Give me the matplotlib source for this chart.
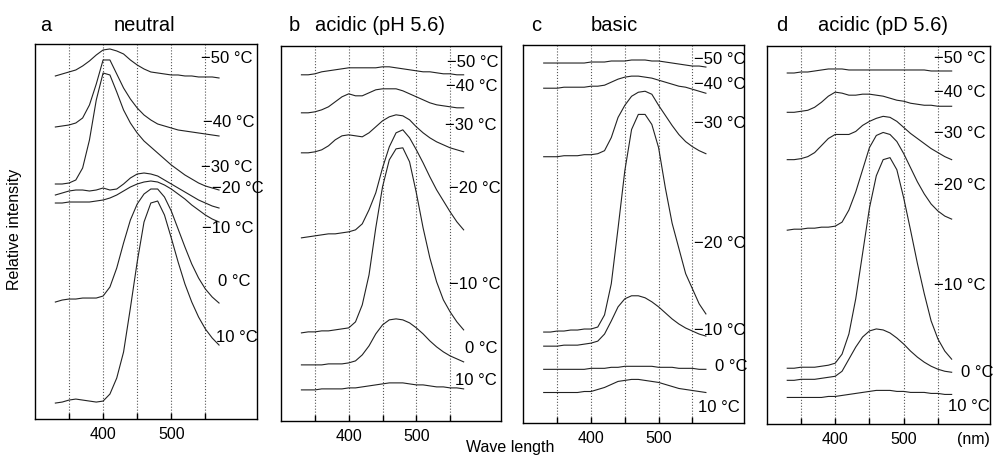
import matplotlib
matplotlib.use("Agg")
import matplotlib.pyplot as plt

plt.rcParams['font.family'] = ['Liberation Sans', 'DejaVu Sans']

# wavelength grid (nm)
wl = [330, 340, 350, 360, 370, 380, 390, 400, 410, 420, 430, 440, 450,
      460, 470, 480, 490, 500, 510, 520, 530, 540, 550, 560, 570]

temps = ['\u221250 \u00b0C', '\u221240 \u00b0C', '\u221230 \u00b0C', '\u221220 \u00b0C',
         '\u221210 \u00b0C', '0 \u00b0C', '10 \u00b0C']

# a  neutral (stacked, arbitrary units)
a_m50 = [343, 345, 347, 349, 353, 358, 364, 369, 370, 368, 365, 359, 354, 350, 347, 346, 345, 344, 344, 343, 343, 342, 342, 342, 341]
a_m40 = [292, 293, 294, 296, 301, 314, 335, 359, 359, 345, 331, 320, 311, 304, 299, 295, 293, 291, 289, 288, 287, 286, 285, 284, 283]
a_m30 = [235, 235, 236, 239, 251, 279, 319, 346, 344, 327, 309, 296, 286, 278, 272, 266, 260, 254, 249, 244, 240, 236, 233, 231, 229]
a_m20 = [224, 226, 228, 229, 229, 228, 229, 231, 229, 230, 235, 241, 245, 246, 245, 243, 239, 235, 231, 227, 223, 219, 216, 213, 211]
a_m10 = [216, 216, 217, 217, 217, 217, 218, 219, 221, 224, 228, 232, 235, 237, 238, 237, 234, 230, 225, 220, 214, 209, 204, 200, 197]
a_0 = [117, 119, 120, 120, 121, 121, 121, 123, 132, 151, 176, 199, 215, 225, 230, 230, 222, 208, 190, 172, 155, 141, 130, 122, 116]
a_10 = [16, 17, 19, 20, 19, 18, 17, 18, 25, 41, 67, 111, 157, 197, 216, 218, 204, 181, 157, 135, 117, 102, 90, 81, 74]

# b  acidic (pH 5.6)
b_m50 = [346, 346, 347, 349, 350, 351, 352, 353, 353, 353, 353, 353, 354, 354, 353, 352, 351, 350, 349, 349, 348, 347, 347, 346, 346]
b_m40 = [308, 308, 309, 311, 314, 319, 324, 327, 325, 325, 328, 331, 332, 332, 332, 330, 327, 324, 321, 318, 316, 315, 314, 313, 313]
b_m30 = [268, 268, 269, 271, 275, 281, 285, 286, 285, 284, 288, 294, 300, 304, 306, 305, 301, 294, 288, 283, 279, 276, 273, 271, 269]
b_m20 = [183, 184, 185, 186, 187, 187, 188, 189, 191, 197, 211, 228, 253, 274, 288, 291, 283, 271, 258, 244, 231, 220, 209, 199, 191]
b_m10 = [88, 89, 89, 90, 90, 91, 92, 93, 99, 116, 146, 193, 234, 261, 272, 273, 259, 228, 193, 163, 139, 121, 109, 99, 91]
b_0 = [56, 56, 56, 56, 57, 57, 57, 58, 60, 66, 75, 87, 96, 101, 102, 101, 98, 93, 87, 80, 74, 69, 65, 62, 59]
b_10 = [31, 31, 31, 32, 32, 32, 32, 33, 33, 34, 35, 36, 37, 38, 38, 38, 37, 36, 36, 35, 34, 34, 33, 33, 32]

# c  basic
c_m50 = [357, 357, 357, 357, 357, 357, 357, 358, 358, 358, 359, 359, 359, 360, 360, 360, 359, 359, 358, 357, 356, 355, 354, 354, 353]
c_m40 = [332, 332, 332, 333, 333, 333, 333, 334, 334, 335, 338, 341, 343, 344, 344, 343, 342, 340, 338, 336, 334, 333, 331, 329, 327]
c_m30 = [264, 264, 264, 265, 265, 265, 266, 266, 267, 270, 283, 303, 315, 324, 328, 329, 326, 315, 305, 295, 286, 279, 274, 270, 267]
c_m20 = [90, 90, 91, 91, 92, 92, 93, 93, 95, 107, 138, 193, 250, 291, 306, 306, 296, 273, 233, 198, 173, 148, 133, 118, 108]
c_m10 = [76, 76, 76, 77, 77, 77, 78, 79, 81, 88, 101, 115, 123, 126, 126, 124, 120, 115, 109, 103, 98, 94, 91, 88, 86]
c_0 = [53, 53, 53, 53, 53, 53, 53, 54, 54, 54, 55, 55, 56, 56, 56, 56, 56, 55, 55, 55, 54, 54, 54, 53, 53]
c_10 = [30, 30, 30, 30, 30, 30, 31, 31, 33, 35, 38, 41, 42, 43, 43, 42, 41, 40, 38, 36, 34, 33, 32, 31, 30]

# d  acidic (pD 5.6)
d_m50 = [348, 348, 349, 349, 350, 351, 352, 352, 352, 351, 351, 351, 351, 351, 351, 351, 351, 351, 351, 351, 351, 350, 350, 350, 350]
d_m40 = [309, 309, 310, 311, 314, 319, 325, 329, 328, 326, 326, 327, 327, 326, 325, 323, 321, 320, 318, 317, 316, 316, 315, 315, 315]
d_m30 = [262, 262, 263, 265, 269, 276, 283, 287, 287, 287, 290, 296, 300, 303, 305, 304, 300, 294, 288, 283, 278, 273, 269, 265, 262]
d_m20 = [192, 193, 193, 194, 194, 195, 195, 196, 200, 212, 230, 252, 274, 286, 289, 287, 280, 268, 254, 240, 228, 218, 211, 206, 203]
d_m10 = [55, 55, 56, 56, 56, 57, 58, 60, 69, 89, 124, 169, 214, 246, 262, 264, 252, 224, 192, 159, 129, 102, 84, 72, 64]
d_0 = [43, 43, 44, 44, 44, 45, 46, 47, 52, 64, 76, 86, 92, 94, 93, 90, 85, 79, 72, 66, 61, 57, 54, 52, 51]
d_10 = [26, 26, 26, 26, 26, 26, 27, 27, 28, 29, 30, 31, 32, 33, 33, 33, 32, 32, 31, 31, 31, 30, 30, 29, 29]

letters = ['a', 'b', 'c', 'd']
titles = ['neutral', 'acidic (pH 5.6)', 'basic', 'acidic (pD 5.6)']

panels = [
    [a_m50, a_m40, a_m30, a_m20, a_m10, a_0, a_10],
    [b_m50, b_m40, b_m30, b_m20, b_m10, b_0, b_10],
    [c_m50, c_m40, c_m30, c_m20, c_m10, c_0, c_10],
    [d_m50, d_m40, d_m30, d_m20, d_m10, d_0, d_10],
]

# layout: axes rectangles and temperature label anchors (x nm, y units)
rects = [
    (0.035, 0.085, 0.223, 0.819),
    (0.282, 0.081, 0.221, 0.819),
    (0.525, 0.077, 0.221, 0.825),
    (0.769, 0.075, 0.224, 0.825),
]
label_pos = [
    [(543, 360), (547, 296), (543, 252), (559, 231), (545, 191), (569, 138), (565, 82)],
    [(545, 358), (544, 334), (543, 295), (548, 232), (549, 136), (572, 72), (557, 40)],
    [(552, 360), (552, 336), (552, 297), (552, 178), (553, 92), (584, 56), (559, 15)],
    [(544, 362), (544, 329), (544, 288), (544, 236), (544, 137), (584, 51), (565, 17)],
]
title_x = [(0.040, 0.145), (0.290, 0.381), (0.533, 0.616), (0.778, 0.886)]

fig = plt.figure(figsize=(9.97, 4.58), dpi=100)

for i in range(4):
    ax = fig.add_axes(rects[i])
    for curve in panels[i]:
        ax.plot(wl, curve, color='#222222', lw=0.8)
    for j, (lx, ly) in enumerate(label_pos[i]):
        ax.text(lx, ly, temps[j], fontsize=12, ha='left', va='center')
    ax.set_xlim(300, 626)
    ax.set_ylim(0, 375)
    ax.set_xticks([350, 400, 450, 500, 550])
    ax.set_xticklabels(['', '400', '', '500', ''], fontsize=11.5)
    ax.tick_params(axis='x', direction='in', length=4, width=1, pad=6)
    ax.set_yticks([])
    ax.grid(axis='x', linestyle=':', color='#555555', lw=0.8)
    for s in ax.spines.values():
        s.set_linewidth(1.0)
    fig.text(title_x[i][0], 0.945, letters[i], fontsize=14.5, ha='left', va='center')
    fig.text(title_x[i][1], 0.945, titles[i], fontsize=14.5, ha='center', va='center')

fig.text(0.015, 0.50, 'Relative intensity', rotation=90, fontsize=11.5, ha='center', va='center')
fig.text(0.512, 0.022, 'Wave length', fontsize=11.5, ha='center', va='center')
fig.text(0.976, 0.040, '(nm)', fontsize=11.5, ha='center', va='center')

fig.savefig('out.png', dpi=100)
